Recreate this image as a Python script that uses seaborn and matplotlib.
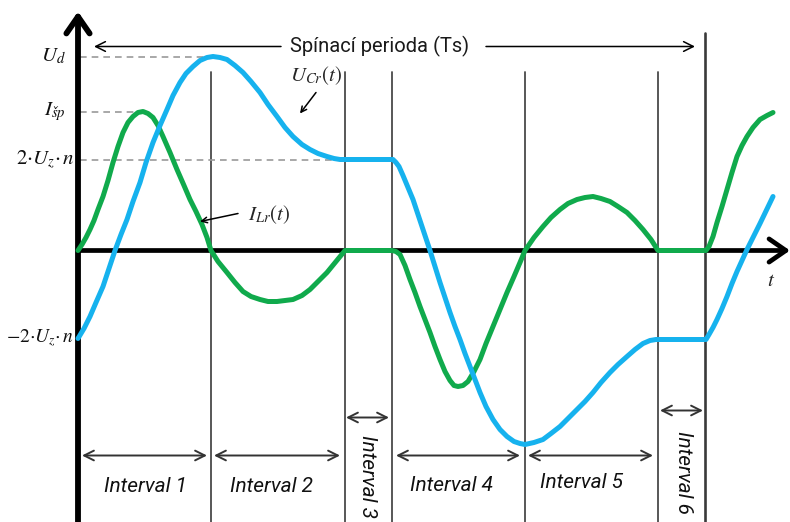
import matplotlib
matplotlib.use("Agg")
import matplotlib.pyplot as plt
import numpy as np
import pandas as pd
import seaborn as sns

# --- waveform samples (time, amplitude) -------------------------------------
t_ucr = [0, 6, 12, 18, 25, 31, 37, 43, 49, 55, 62, 68, 75, 82, 89, 95, 102,
         108, 115, 122, 129, 135, 142, 149, 157, 165, 173, 182, 190, 199, 207,
         215, 224, 232, 240, 249, 256, 262, 315, 318, 321, 325, 330, 335, 340,
         345, 352, 357, 362, 367, 372, 377, 382, 387, 392, 397, 402, 408, 415,
         422, 429, 436, 442, 447, 456, 465, 473, 482, 490, 499, 507, 515, 523,
         532, 540, 549, 557, 565, 572, 578, 628, 631, 635, 639, 644, 649, 654,
         659, 669, 682, 695]
v_ucr = [-88, -78, -66, -52, -36, -18, 0, 16, 31, 49, 68, 88, 108, 125, 141,
         155, 168, 177, 184, 190, 193, 194, 193, 191, 185, 178, 169, 158, 146,
         134, 123, 114, 106, 101, 97, 94, 92, 91, 91, 88, 84, 75, 63, 51, 36,
         21, 0, -16, -32, -47, -62, -76, -89, -103, -116, -129, -142, -156,
         -169, -179, -186, -191, -193, -194, -192, -189, -183, -176, -168, -159,
         -151, -142, -132, -122, -114, -106, -99, -93, -90, -89, -89, -84, -77,
         -69, -58, -46, -33, -21, 1, 27, 54]

t_ilr = [0, 4, 8, 12, 16, 20, 25, 30, 35, 40, 45, 50, 55, 60, 65, 70, 75, 80,
         85, 92, 99, 106, 112, 118, 124, 129, 133, 140, 149, 157, 165, 173,
         182, 190, 199, 207, 215, 224, 232, 240, 249, 258, 267, 314, 318, 322,
         327, 332, 337, 342, 347, 352, 357, 362, 367, 372, 376, 380, 385, 390,
         396, 402, 408, 415, 422, 429, 436, 442, 447, 456, 465, 473, 482, 490,
         499, 507, 515, 523, 532, 540, 549, 557, 565, 573, 580, 628, 631, 635,
         639, 644, 649, 654, 659, 664, 669, 675, 682, 689, 695]
v_ilr = [0, 6, 13, 21, 30, 41, 54, 70, 88, 104, 118, 128, 134, 138, 139, 137,
         133, 125, 114, 98, 81, 65, 51, 39, 26, 13, 0, -11, -22, -32, -41, -46,
         -49, -51, -51, -50, -49, -45, -39, -31, -22, -11, 0, 0, -1, -4, -15,
         -29, -42, -56, -69, -82, -96, -109, -121, -130, -135, -136, -135, -131,
         -121, -109, -93, -76, -59, -42, -26, -12, 0, 13, 24, 33, 41, 47, 51,
         53, 54, 52, 49, 44, 38, 30, 21, 11, 0, 0, 4, 14, 28, 44, 61, 78, 94,
         105, 114, 123, 131, 135, 138]

# interval boundaries on the time axis
boundaries = [133, 267, 314, 447, 580]
period_end = 627

# reference levels
level_ud = 194
level_isp = 139
level_2uzn = 91
level_m2uzn = -88

interval_labels = ["Interval 1", "Interval 2", "Interval 3",
                   "Interval 4", "Interval 5", "Interval 6"]

df = pd.concat([
    pd.DataFrame({"t": t_ilr, "v": v_ilr, "signal": "ILr"}),
    pd.DataFrame({"t": t_ucr, "v": v_ucr, "signal": "UCr"}),
], ignore_index=True)

sns.set_style("white")
plt.rcParams["mathtext.fontset"] = "stix"
plt.rcParams["font.family"] = ["Roboto", "DejaVu Sans"]

fig = plt.figure(figsize=(7.9, 5.22), dpi=100)
ax = fig.add_axes([0, 0, 1, 1])

GREEN = "#10AA4C"
BLUE = "#16B2EE"
GRID = "#4a4a4a"

# vertical interval separators
for b in boundaries:
    ax.plot([b, b], [-272, 179], color=GRID, lw=1.3, zorder=1)
ax.plot([period_end, period_end], [-272, 218], color="#3a3a3a", lw=1.9, zorder=1)

# dashed reference levels
dash = dict(color="#9a9a9a", lw=1.2, ls=(0, (4, 3)), zorder=1)
ax.plot([2, 132], [level_ud, level_ud], **dash)
ax.plot([2, 64], [level_isp, level_isp], **dash)
ax.plot([2, 268], [level_2uzn, level_2uzn], **dash)

# coordinate axes with arrow heads
ax.annotate("", xy=(712, 0), xytext=(0, 0),
            arrowprops=dict(arrowstyle="->,head_length=0.55,head_width=0.38",
                            lw=3.4, color="black", mutation_scale=22,
                            shrinkA=0, shrinkB=0), zorder=2)
ax.annotate("", xy=(0, 239), xytext=(0, -272),
            arrowprops=dict(arrowstyle="->,head_length=0.55,head_width=0.38",
                            lw=4.2, color="black", mutation_scale=22,
                            shrinkA=0, shrinkB=0), zorder=2)

# waveforms
sns.lineplot(data=df, x="t", y="v", hue="signal",
             palette={"ILr": GREEN, "UCr": BLUE}, estimator=None, sort=False,
             linewidth=3.6, legend=False, ax=ax, zorder=3)
for ln in ax.get_lines()[-2:]:
    ln.set_solid_joinstyle("round")
    ln.set_solid_capstyle("round")
ax.set_xlim(-78, 712)
ax.set_ylim(-271.5, 250.5)
ax.axis("off")

# switching period annotation
thin = dict(arrowstyle="->,head_length=0.5,head_width=0.25", lw=1.1,
            color="black", mutation_scale=14, shrinkA=0, shrinkB=0)
ax.annotate("", xy=(16, 204), xytext=(203, 204), arrowprops=thin)
ax.annotate("", xy=(617, 204), xytext=(408, 204), arrowprops=thin)
ax.text(302, 204, "Spínací perioda (Ts)", fontsize=14.5, ha="center",
        va="center", color="#1a1a1a")

# level labels
lab = dict(fontsize=15, ha="right", va="center", color="#111111")
ax.text(-12, level_ud, r"$U_d$", **lab)
ax.text(-12, level_isp, r"$I_{šp}$", **lab)
ax.text(-4, level_2uzn, r"$2{\cdot}U_z{\cdot}\,n$", **lab)
ax.text(-4, level_m2uzn, r"$-2{\cdot}U_z{\cdot}\,n$",
        **{**lab, "fontsize": 14})

# signal labels with pointers
ax.text(212, 175, r"$U_{Cr}(t)$", fontsize=15, ha="left", va="center")
ax.annotate("", xy=(222, 137), xytext=(238, 158),
            arrowprops=dict(arrowstyle="->", lw=1.1, color="black",
                            shrinkA=0, shrinkB=0))
ax.text(170, 36, r"$I_{Lr}(t)$", fontsize=15, ha="left", va="center")
ax.annotate("", xy=(122, 29), xytext=(160, 37),
            arrowprops=dict(arrowstyle="->", lw=1.1, color="black",
                            shrinkA=0, shrinkB=0))
ax.text(693, -30, r"$t$", fontsize=15, ha="center", va="center")

# interval spans
dbl = dict(arrowstyle="<->,head_length=0.5,head_width=0.25", lw=1.4,
           color="#333333", mutation_scale=14, shrinkA=0, shrinkB=0)
spans = [(4, 129, -205), (136, 262, -205), (268, 311, -167),
         (318, 442, -205), (450, 575, -205), (582, 625, -160)]
for (a, b, y) in spans:
    ax.annotate("", xy=(a, y), xytext=(b, y), arrowprops=dbl)

txt = dict(fontsize=15, style="italic", color="#111111", va="center",
           ha="center")
ax.text(68, -236, interval_labels[0], **txt)
ax.text(194, -236, interval_labels[1], **txt)
ax.text(374, -235, interval_labels[3], **txt)
ax.text(504, -232, interval_labels[4], **txt)
ax.text(290, -226, interval_labels[2], rotation=270, **txt)
ax.text(606, -222, interval_labels[5], rotation=270, **txt)

fig.savefig("out.png", dpi=100)
